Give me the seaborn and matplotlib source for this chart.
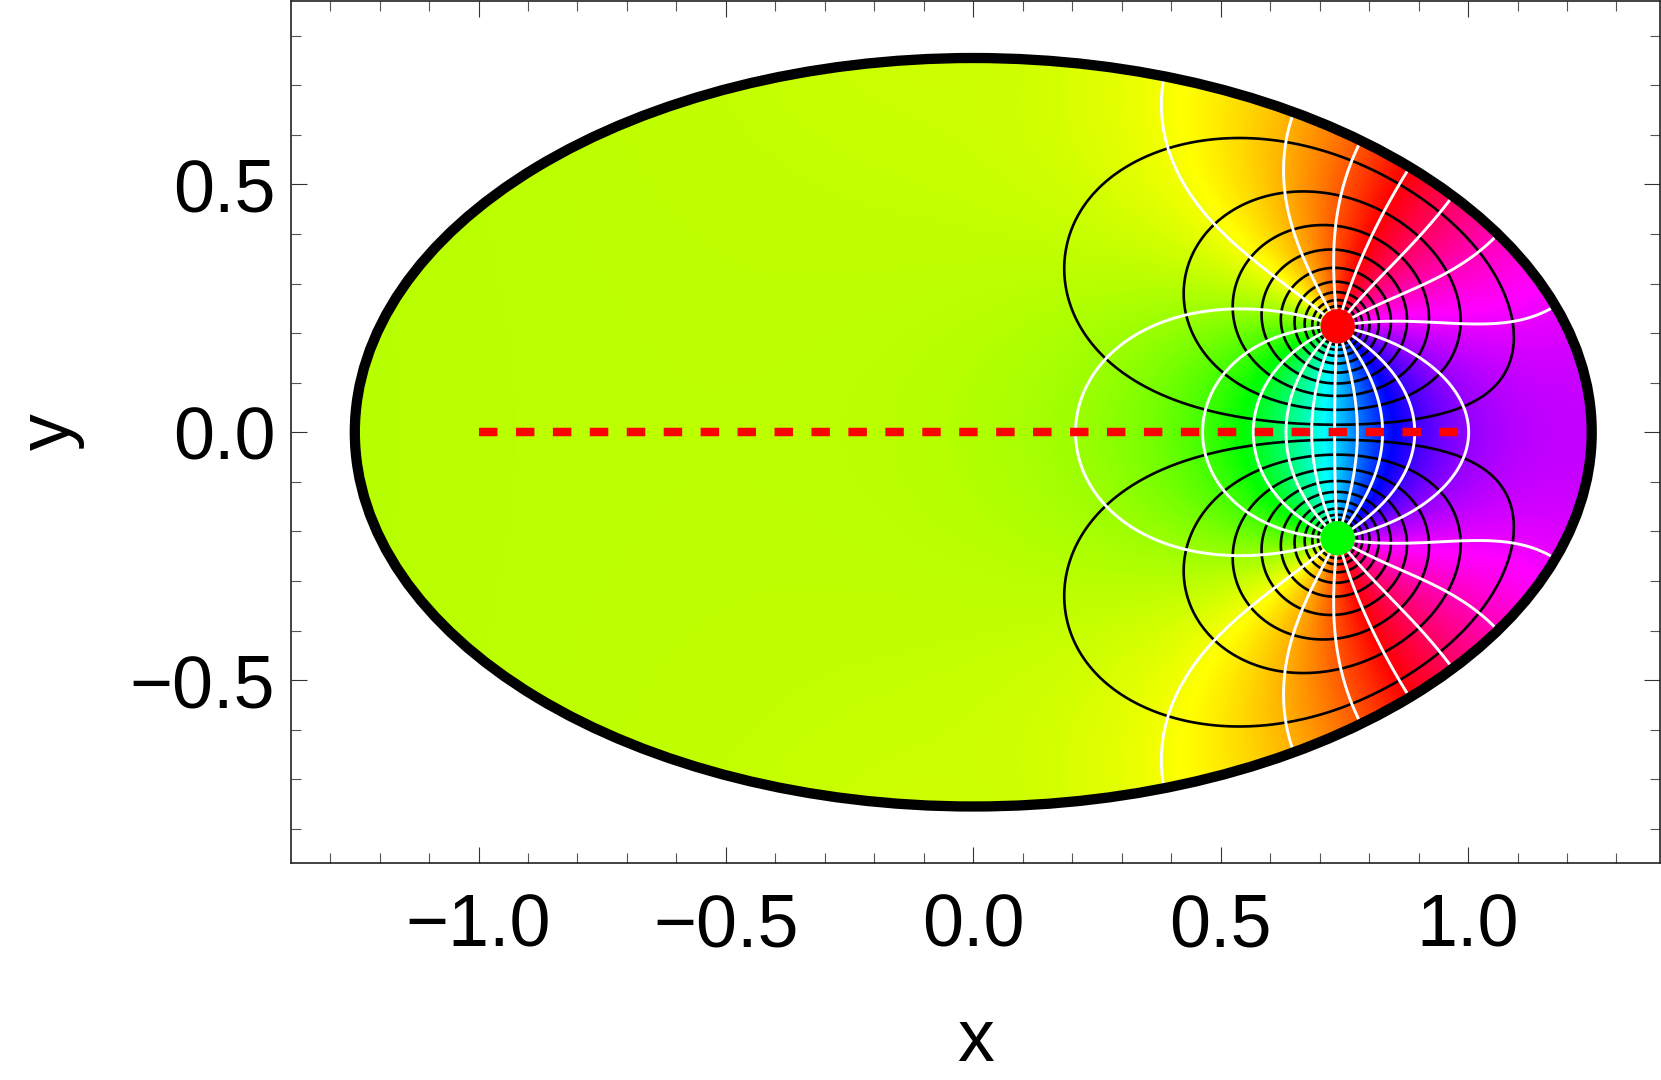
import numpy as np
import matplotlib
matplotlib.use("Agg")
import matplotlib.pyplot as plt
from matplotlib.colors import ListedColormap
from matplotlib.patches import Ellipse
from matplotlib.ticker import MultipleLocator
import seaborn as sns

# values
ellipse_axes = [1.25, 0.755]
pole_x = [0.7366, 0.7366]
pole_y = [0.2137, -0.2137]
pole_colors = ["#ff0000", "#00ff00"]
cut_x = [-1.0, 1.0]
cut_y = [0.0, 0.0]
# image poles fitted to contour positions
image_x = [1.1274, -0.0437]
image_y = [0.8414, 0.7995]
image_weight = [0.6349, -0.0276]
white_phase = -0.7075
hue_at_white = 0.2328
n_white = 17
black_first = 0.1243
black_step = 0.2510
n_black = 13
x_ticks = [-1.0, -0.5, 0.0, 0.5, 1.0]
y_ticks = [-0.5, 0.0, 0.5]
x_tick_labels = ["\u22121.0", "\u22120.5", "0.0", "0.5", "1.0"]
y_tick_labels = ["\u22120.5", "0.0", "0.5"]

sns.set_style("ticks")
plt.rcParams["font.family"] = ["Liberation Sans", "DejaVu Sans"]

fig = plt.figure(figsize=(16.61, 10.80), dpi=100)
ax = fig.add_axes([290.5 / 1661, (1080 - 863) / 1080, (1660 - 290.5) / 1661, 862 / 1080])

xs = np.linspace(-1.3, 1.3, 1560)
ys = np.linspace(-0.8, 0.8, 960)
X, Y = np.meshgrid(xs, ys)
Z = X + 1j * Y
p1 = pole_x[0] + 1j * pole_y[0]
p2 = pole_x[1] + 1j * pole_y[1]

log_f = np.log(Z - p1) - np.log(Z - p2)
for qx, qy, w in zip(image_x, image_y, image_weight):
    log_f = log_f + w * (np.log(1j * (qx - 1j * qy - Z)) - np.log(-1j * (qx + 1j * qy - Z)))
H = log_f.imag / (2 * np.pi)
L = log_f.real
hue = np.mod(H - white_phase + hue_at_white, 1.0)

cmap = ListedColormap(sns.hls_palette(720, h=0.0, l=0.5, s=1.0))
boundary = Ellipse((0, 0), 2 * ellipse_axes[0], 2 * ellipse_axes[1], fill=False,
                   edgecolor="black", linewidth=7.4, zorder=6)
ax.add_patch(boundary)

mesh = ax.pcolormesh(X, Y, hue, cmap=cmap, vmin=0, vmax=1, shading="auto", zorder=1)
mesh.set_clip_path(boundary)

levels = [black_first + black_step * k for k in range(n_black)]
black = ax.contour(X, Y, L, levels=sorted([-v for v in levels] + levels),
                   colors="black", linewidths=1.9, linestyles="solid", zorder=2)
black.set_clip_path(boundary)

for k in range(n_white):
    angle = 2 * np.pi * (H - white_phase - k / n_white)
    # the flat left part of the field carries no white line
    A = np.ma.array(np.sin(angle), mask=(np.cos(angle) < 0) | (X < 0))
    cs = ax.contour(X, Y, A, levels=[0.0], colors="white", linewidths=2.1,
                    linestyles="solid", zorder=3)
    cs.set_clip_path(boundary)

sns.lineplot(x=cut_x, y=cut_y, ax=ax, color="#ff0000", linewidth=6.1,
             linestyle=(0, (2.18, 2.18)), dash_capstyle="butt", zorder=4, errorbar=None)
sns.scatterplot(x=pole_x, y=pole_y, hue=pole_colors, palette={c: c for c in pole_colors},
                ax=ax, s=610, linewidth=0, legend=False, zorder=5)

ax.set_xlim(-1.38, 1.388)
ax.set_ylim(-0.869, 0.87)
ax.set_xticks(x_ticks)
ax.set_yticks(y_ticks)
ax.xaxis.set_minor_locator(MultipleLocator(0.1))
ax.yaxis.set_minor_locator(MultipleLocator(0.1))
ax.tick_params(which="major", direction="in", top=True, right=True, length=11.5, width=0.8,
               color="#333333", labelsize=53, labelcolor="black")
ax.tick_params(axis="x", which="major", pad=21)
ax.tick_params(axis="y", which="major", pad=11)
ax.tick_params(which="minor", direction="in", top=True, right=True, length=7, width=0.8,
               color="#555555")
for s in ax.spines.values():
    s.set_linewidth(1.2)
    s.set_color("#222222")
    s.set_visible(True)
ax.set_xticklabels(x_tick_labels)
ax.set_yticklabels(y_tick_labels)
ax.set_xlabel("x", fontsize=53, color="black", labelpad=33)
ax.set_ylabel("y", fontsize=53, color="black", labelpad=32)

fig.savefig("out.png", dpi=100, facecolor="white")
